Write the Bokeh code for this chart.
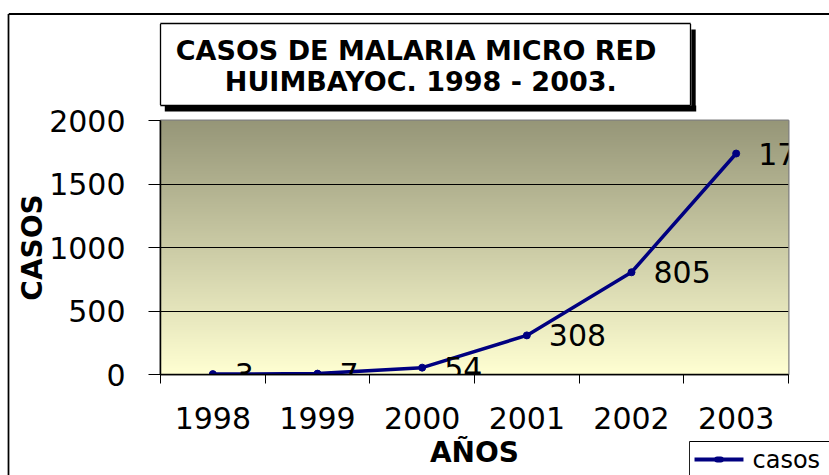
import numpy as np
from bokeh.plotting import figure
from bokeh.models import (ColumnDataSource, Label, LabelSet, FixedTicker, LinearColorMapper, Range1d)
from bokeh.core.properties import value
from bokeh.embed import file_html
from bokeh.resources import INLINE

# ---- data ----
years = ["1998", "1999", "2000", "2001", "2002", "2003"]
casos = [3, 7, 54, 308, 805, 1740]
y_ticks = [0, 500, 1000, 1500, 2000]
title_lines = ["CASOS  DE MALARIA  MICRO RED", "HUIMBAYOC. 1998  - 2003."]
x_label = "AÑOS"
y_label = "CASOS"
series_name = "casos"

FONT = "DejaVu Sans"
NAVY = "#000080"

xpos = [i + 0.5 for i in range(len(years))]
src = ColumnDataSource(dict(x=xpos, y=casos, lbl=[str(v) for v in casos]))

p = figure(width=829, height=475, output_backend="svg", toolbar_location=None, tools="",
           x_range=Range1d(0, len(years)), y_range=Range1d(0, 2000),
           min_border_left=160, min_border_right=41, min_border_top=120, min_border_bottom=101)
p.border_fill_color = "white"
p.outline_line_color = "#808080"
p.outline_line_width = 2

# gradient background of the plot area
top_rgb = np.array([150, 150, 120])
bot_rgb = np.array([255, 255, 210])
palette = []
for t in np.linspace(0, 1, 256):
    c = (bot_rgb + (top_rgb - bot_rgb) * t).round().astype(int)
    palette.append("#%02x%02x%02x" % tuple(c))
grad = np.linspace(0, 1, 256).reshape(256, 1)
p.image(image=[grad], x=0, y=0, dw=len(years), dh=2000,
        color_mapper=LinearColorMapper(palette=palette, low=0, high=1), level="image")

# grid
p.xgrid.visible = False
p.ygrid.ticker = FixedTicker(ticks=y_ticks)
p.ygrid.grid_line_color = "black"
p.ygrid.grid_line_width = 1

# axes
p.yaxis.ticker = FixedTicker(ticks=y_ticks)
p.yaxis.major_tick_out = 12
p.yaxis.major_tick_in = 0
p.yaxis.minor_tick_line_color = None
p.yaxis.major_label_standoff = 23
p.yaxis.major_label_text_font = FONT
p.yaxis.major_label_text_font_size = "30px"
p.yaxis.major_label_text_color = "black"
p.yaxis.axis_line_color = "black"
p.yaxis.axis_line_width = 1.5
p.yaxis.major_tick_line_color = "black"
p.yaxis.axis_label = y_label
p.yaxis.axis_label_text_font = FONT
p.yaxis.axis_label_text_font_style = "bold"
p.yaxis.axis_label_text_font_size = "28px"
p.yaxis.axis_label_text_color = "black"
p.yaxis.axis_label_standoff = -3

p.xaxis.ticker = FixedTicker(ticks=xpos, minor_ticks=list(range(len(years) + 1)))
p.xaxis.major_label_overrides = {x: y for x, y in zip(xpos, years)}
p.xaxis.major_tick_out = 0
p.xaxis.major_tick_in = 0
p.xaxis.minor_tick_out = 9
p.xaxis.minor_tick_in = 0
p.xaxis.minor_tick_line_color = "black"
p.xaxis.major_label_standoff = 23
p.xaxis.major_label_text_font = FONT
p.xaxis.major_label_text_font_size = "30px"
p.xaxis.major_label_text_color = "black"
p.xaxis.axis_line_color = "black"
p.xaxis.axis_line_width = 1.5
p.xaxis.axis_label = x_label
p.xaxis.axis_label_text_font = FONT
p.xaxis.axis_label_text_font_style = "bold"
p.xaxis.axis_label_text_font_size = "28px"
p.xaxis.axis_label_text_color = "black"
p.xaxis.axis_label_standoff = 4

# series
ln = p.line("x", "y", source=src, line_color=NAVY, line_width=3.5)
sc = p.scatter("x", "y", source=src, size=7, color=NAVY)

# data labels
p.add_layout(LabelSet(x="x", y="y", text="lbl", source=src, x_offset=22,
                      text_baseline="middle", text_align="left", text_font=value(FONT),
                      text_font_size="30px", text_color="black"))


# thin bars drawn as empty labels (canvas units); horizontal ones live in the top panel,
# vertical ones in the left panel, so they add only their thickness to those panels.
def hbar(x0, x1, y, th, color="black", radius=0):
    half = int(round((x1 - x0) / 2))
    return Label(x=(x0 + x1) / 2, y=y, x_units="canvas", y_units="canvas", text=" ",
                 text_font_size="%.2fpx" % (th / 1.164), text_align="center",
                 text_baseline="middle", padding=dict(left=half, right=half, top=0, bottom=0),
                 background_fill_color=color, background_fill_alpha=1, border_radius=radius)


def vbar(x, y0, y1, th, color="black"):
    fs = th / 0.318
    half = max(int(round((y1 - y0) / 2 - 0.582 * fs)), 0)
    return Label(x=x, y=(y0 + y1) / 2, x_units="canvas", y_units="canvas", text=" ",
                 text_font_size="%.2fpx" % fs, text_align="center", text_baseline="middle",
                 padding=dict(left=0, right=0, top=half, bottom=half),
                 background_fill_color=color, background_fill_alpha=1)


# outer chart border (left and top edges; the others lie beyond the visible area)
p.add_layout(vbar(8, 13, 475, 2), "left")
p.add_layout(hbar(8, 829, 13.5, 2), "above")

# title box edges + shadow
p.add_layout(hbar(160, 690, 23, 1.5), "above")
p.add_layout(hbar(160, 690, 105, 1.5), "above")
p.add_layout(vbar(160, 23, 105, 1.5), "left")
p.add_layout(vbar(690, 23, 105, 1.5), "left")
p.add_layout(hbar(165, 695, 108, 6), "above")
p.add_layout(vbar(693, 28, 111, 5), "left")
for ty, txt in zip([49.5, 80.5], title_lines):
    p.add_layout(Label(x=425, y=ty, x_units="canvas", y_units="canvas", text=txt,
                       text_align="center", text_baseline="middle", text_font=FONT,
                       text_font_style="bold", text_font_size="27px", text_color="black"),
                 "above")

# legend (box edges, line sample with marker, label)
p.add_layout(hbar(689, 829, 441, 1), "above")
p.add_layout(vbar(689, 441, 475, 1), "left")
p.add_layout(hbar(695, 742, 459, 4, color=NAVY), "above")
p.add_layout(hbar(715, 722, 459, 7, color=NAVY, radius=3), "above")
p.add_layout(Label(x=752, y=459, x_units="canvas", y_units="canvas", text=series_name,
                   text_align="left", text_baseline="middle", text_font=FONT,
                   text_font_size="24px", text_color="black"), "above")

open("out.html", "w").write(file_html(p, INLINE))
